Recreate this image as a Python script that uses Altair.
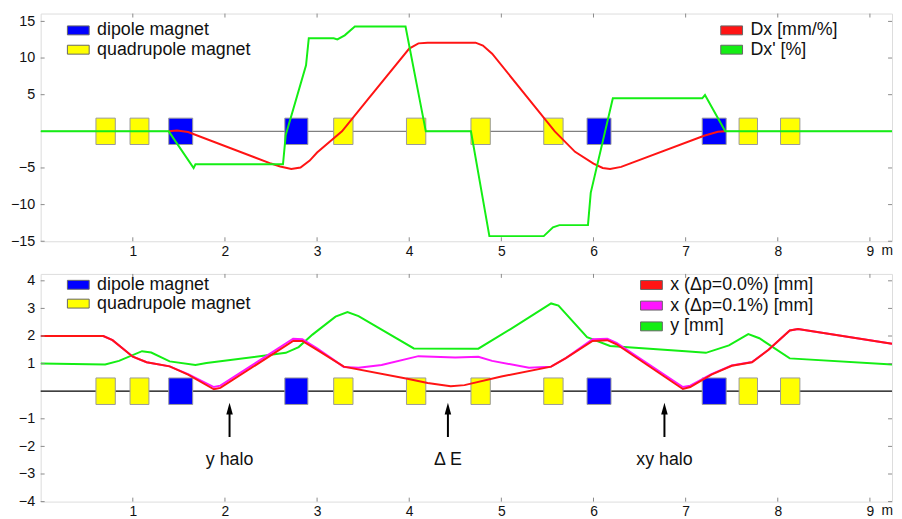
import altair as alt
import pandas as pd

FONT = "Liberation Sans"
FRAME = "#8a8a8a"
RED = "#ff1414"
GREEN = "#14ee14"
MAGENTA = "#ff14ff"
BLUE = "#0000ff"
YELLOW = "#ffff00"

X_MAX = 9.24
W, H = 860, 230

# ---------------- data ----------------
x_ticks = [1, 2, 3, 4, 5, 6, 7, 8, 9]
top_yticks = [-15, -10, -5, 5, 10, 15]
bot_yticks = [-4, -3, -2, -1, 1, 2, 3, 4]

quad_start = [0.60, 0.97, 3.18, 3.97, 4.67, 5.46, 7.58, 8.03]
quad_end = [0.81, 1.175, 3.39, 4.18, 4.88, 5.67, 7.78, 8.24]
dip_start = [1.39, 2.65, 5.93, 7.18]
dip_end = [1.65, 2.90, 6.19, 7.44]

# top panel: dispersion
dx_s = [1.39, 1.48, 1.60, 2.50, 2.60, 2.72, 2.82, 2.92, 3.00, 3.27, 3.54, 4.00, 4.10, 4.20,
        4.72, 4.80, 4.90, 5.58, 5.80, 6.00, 6.10, 6.18, 6.30, 7.20, 7.35, 7.43]
dx_v = [0.0, 0.12, -0.1, -4.4, -4.8, -5.15, -4.95, -4.0, -2.9, 0.0, 4.2, 11.3, 12.0, 12.1,
        12.1, 11.7, 10.6, 0.0, -2.8, -4.4, -5.0, -5.15, -4.85, -0.6, -0.05, 0.0]

dxp_s = [0.0, 1.39, 1.66, 1.68, 2.63, 2.66, 2.88, 2.91, 3.18, 3.22, 3.30, 3.41, 3.96, 4.18,
         4.67, 4.87, 5.46, 5.56, 5.63, 5.94, 5.97, 6.21, 7.18, 7.21, 7.43, 9.24]
dxp_v = [0.0, 0.0, -5.0, -4.5, -4.5, -0.5, 9.0, 12.7, 12.7, 12.55, 13.1, 14.3, 14.3, 0.0,
         0.0, -14.3, -14.3, -13.1, -12.8, -12.8, -8.4, 4.5, 4.5, 4.95, 0.0, 0.0]

# bottom panel: beam envelopes
x0_s = [0.0, 0.68, 0.78, 1.00, 1.15, 1.40, 1.60, 1.88, 1.95, 2.74, 2.84, 3.00, 3.29, 3.98,
        4.20, 4.45, 4.60, 5.00, 5.54, 5.70, 5.99, 6.15, 6.25, 6.97, 7.05, 7.28, 7.50, 7.72,
        7.90, 8.13, 8.22, 9.24]
x0_v = [2.0, 2.0, 1.85, 1.25, 1.05, 0.9, 0.6, 0.07, 0.12, 1.82, 1.82, 1.5, 0.89, 0.45,
        0.3, 0.18, 0.22, 0.53, 0.89, 1.2, 1.82, 1.85, 1.7, 0.08, 0.15, 0.6, 0.92, 1.05,
        1.5, 2.2, 2.25, 1.72]

x1_s = [0.0, 0.68, 0.78, 1.00, 1.15, 1.40, 1.60, 1.88, 1.95, 2.74, 2.84, 3.00, 3.29, 3.45,
        3.70, 4.10, 4.50, 4.75, 4.90, 5.30, 5.54, 5.70, 5.99, 6.15, 6.25, 6.97, 7.05, 7.28,
        7.50, 7.72, 7.90, 8.13, 8.22, 9.24]
x1_v = [2.0, 2.0, 1.85, 1.25, 1.05, 0.9, 0.62, 0.15, 0.2, 1.9, 1.88, 1.55, 0.88, 0.85,
        0.95, 1.27, 1.22, 1.25, 1.1, 0.85, 0.89, 1.2, 1.88, 1.9, 1.75, 0.15, 0.2, 0.62,
        0.93, 1.06, 1.5, 2.2, 2.25, 1.72]

y_s = [0.0, 0.70, 0.85, 1.10, 1.20, 1.40, 1.68, 1.80, 2.66, 2.80, 2.95, 3.20, 3.33, 3.45,
       4.05, 4.75, 5.10, 5.54, 5.62, 5.93, 6.18, 7.00, 7.22, 7.47, 7.68, 7.80, 8.13, 9.24]
y_v = [1.0, 0.97, 1.1, 1.45, 1.4, 1.08, 0.95, 1.02, 1.39, 1.6, 2.05, 2.7, 2.87, 2.72,
       1.55, 1.54, 2.25, 3.18, 3.1, 1.96, 1.64, 1.45, 1.39, 1.66, 2.07, 1.92, 1.19, 0.97]

arrow_x = [2.05, 4.42, 6.77]
arrow_labels = ["y halo", "\u0394 E", "xy halo"]

# ---------------- helpers ----------------
x_scale = alt.Scale(domain=[0, X_MAX], nice=False, zero=False)
x_axis = alt.Axis(values=x_ticks, title=None, grid=False, ticks=False, tickSize=0,
                  domain=False, labelPadding=3, labelFontSize=14, labelFont=FONT,
                  labelColor="#111", minExtent=18, maxExtent=18)


def xenc(f):
    return alt.X(f, type="quantitative", scale=x_scale, axis=x_axis)


def make_yenc(domain, ticks):
    sc = alt.Scale(domain=domain, nice=False, zero=False)
    ax = alt.Axis(values=ticks, title=None, grid=False, ticks=False, tickSize=0,
                  domain=False, labelPadding=6, labelFontSize=14.5, labelFont=FONT,
                  labelColor="#111", minExtent=32, maxExtent=32)

    def yenc(f):
        return alt.Y(f, type="quantitative", scale=sc, axis=ax)
    return yenc


def line(xs, ys, color, yenc):
    df = pd.DataFrame({"s": xs, "v": ys})
    return alt.Chart(df).mark_line(color=color, strokeWidth=2, clip=True).encode(
        x=xenc("s"), y=yenc("v"), order="s:Q")


def magnets(yenc, half):
    q = pd.DataFrame({"a": quad_start, "b": quad_end, "lo": [-half] * len(quad_start),
                      "hi": [half] * len(quad_start)})
    d = pd.DataFrame({"a": dip_start, "b": dip_end, "lo": [-half] * len(dip_start),
                      "hi": [half] * len(dip_start)})
    lq = alt.Chart(q).mark_rect(fill=YELLOW, stroke="#9a9a9a", strokeWidth=1).encode(
        x=xenc("a"), x2="b", y=yenc("lo"), y2="hi")
    ld = alt.Chart(d).mark_rect(fill=BLUE, stroke="#9a9a9a", strokeWidth=1).encode(
        x=xenc("a"), x2="b", y=yenc("lo"), y2="hi")
    return [lq, ld]


def frame_ticks(yenc, yt):
    dfx = pd.DataFrame({"t": x_ticks})
    dfy = pd.DataFrame({"t": yt})
    L = []
    L.append(alt.Chart(dfx).mark_rule(color=FRAME, strokeWidth=1).encode(
        x=xenc("t"), y=alt.value(H), y2=alt.value(H - 4)))
    L.append(alt.Chart(dfx).mark_rule(color=FRAME, strokeWidth=1).encode(
        x=xenc("t"), y=alt.value(0), y2=alt.value(4)))
    L.append(alt.Chart(dfy).mark_rule(color=FRAME, strokeWidth=1).encode(
        y=yenc("t"), x=alt.value(0), x2=alt.value(4)))
    L.append(alt.Chart(dfy).mark_rule(color=FRAME, strokeWidth=1).encode(
        y=yenc("t"), x=alt.value(W), x2=alt.value(W - 4)))
    return L


one = pd.DataFrame({"a": [0]})


def legend(labels, colors, x0, ys, fs=18):
    L = []
    for lab, col, yy in zip(labels, colors, ys):
        L.append(alt.Chart(one).mark_rect(fill=col, stroke="#666", strokeWidth=1).encode(
            x=alt.value(x0), x2=alt.value(x0 + 22), y=alt.value(yy - 4.5),
            y2=alt.value(yy + 4.5)))
        L.append(alt.Chart(one).mark_text(align="left", baseline="middle", fontSize=fs,
                                          font=FONT, color="#111").encode(
            x=alt.value(x0 + 30), y=alt.value(yy), text=alt.value(lab)))
    return L


def unit_label():
    return alt.Chart(one).mark_text(align="right", baseline="top", fontSize=14,
                                    font=FONT, color="#111").encode(
        x=alt.value(W + 1), y=alt.value(H + 3), text=alt.value("m"))


# ---------------- top panel ----------------
ytop = make_yenc([-15, 16.07], top_yticks)
zero_top = alt.Chart(pd.DataFrame({"z": [0]})).mark_rule(color="#808080", strokeWidth=1.2).encode(
    y=ytop("z"))
top_layers = [zero_top] + magnets(ytop, 1.8) + [
    line(dx_s, dx_v, RED, ytop),
    line(dxp_s, dxp_v, GREEN, ytop),
] + frame_ticks(ytop, top_yticks) + legend(
    ["dipole magnet", "quadrupole magnet"], [BLUE, YELLOW], 27, [17.0, 36.5]
) + legend(["Dx [mm/%]", "Dx' [%]"], [RED, GREEN], 687, [17.0, 36.5]) + [unit_label()]
top = alt.layer(*top_layers).properties(width=W, height=H)

# ---------------- bottom panel ----------------
ybot = make_yenc([-4, 4.25], bot_yticks)
zero_bot = alt.Chart(pd.DataFrame({"z": [0]})).mark_rule(color="#000000", strokeWidth=1.2).encode(
    y=ybot("z"))
arr = pd.DataFrame({"x": arrow_x, "lab": arrow_labels,
                    "y0": [-1.66] * 3, "y1": [-0.62] * 3, "yh": [-0.63] * 3,
                    "yt": [-2.48] * 3})
shaft = alt.Chart(arr).mark_rule(color="black", strokeWidth=2).encode(
    x=xenc("x"), y=ybot("y0"), y2="y1")
head = alt.Chart(arr).mark_point(shape="M0,-1L-0.55,1L0.55,1Z", filled=True, opacity=1,
                                 color="black", size=144, strokeWidth=0).encode(
    x=xenc("x"), y=ybot("yh"))
alabel = alt.Chart(arr).mark_text(fontSize=18, font=FONT, color="#111", baseline="middle",
                                  align="center").encode(
    x=xenc("x"), y=ybot("yt"), text="lab:N")

bot_layers = [zero_bot] + magnets(ybot, 0.48) + [
    line(y_s, y_v, GREEN, ybot),
    line(x1_s, x1_v, MAGENTA, ybot),
    line(x0_s, x0_v, RED, ybot),
    shaft, head, alabel,
] + frame_ticks(ybot, bot_yticks) + legend(
    ["dipole magnet", "quadrupole magnet"], [BLUE, YELLOW], 27, [11.0, 30.0]
) + legend(["x (\u0394p=0.0%) [mm]", "x (\u0394p=0.1%) [mm]", "y  [mm]"],
           [RED, MAGENTA, GREEN], 606, [11.2, 32.0, 53.0]) + [unit_label()]
bottom = alt.layer(*bot_layers).properties(width=W, height=H)

chart = alt.vconcat(top, bottom, spacing=12).properties(
    padding={"left": 0, "top": 2, "right": 0, "bottom": 0}
).configure_view(stroke=FRAME, strokeWidth=1).configure(background="white")

chart.save("out.html", embed_options={"renderer": "svg", "actions": False})
